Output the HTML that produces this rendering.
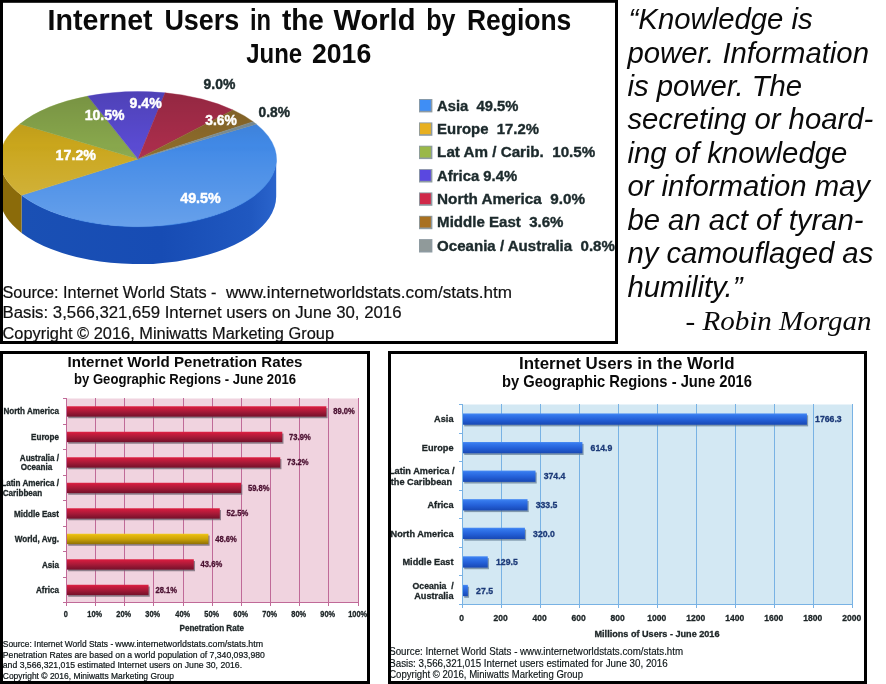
<!DOCTYPE html>
<html lang="en"><head><meta charset="utf-8"><title>Internet Users in the World by Regions - June 2016</title>
<style>
html,body{margin:0;padding:0;background:#fff;}
body{width:886px;height:684px;overflow:hidden;}
svg{display:block;}
text{font-family:"Liberation Sans",Arial,sans-serif;}
text.sf{font-family:"Liberation Serif","Times New Roman",serif;}
</style></head><body>
<svg width="886" height="684" viewBox="0 0 886 684">
<defs>
<linearGradient id="gRed" x1="0" y1="0" x2="0" y2="1"><stop offset="0" stop-color="#e02848"/><stop offset="0.12" stop-color="#d01c3e"/><stop offset="0.5" stop-color="#a81a38"/><stop offset="1" stop-color="#74102a"/></linearGradient>
<linearGradient id="gGold" x1="0" y1="0" x2="0" y2="1"><stop offset="0" stop-color="#f0cc20"/><stop offset="0.15" stop-color="#e4b810"/><stop offset="0.5" stop-color="#cca408"/><stop offset="1" stop-color="#907004"/></linearGradient>
<linearGradient id="gBlue" x1="0" y1="0" x2="0" y2="1"><stop offset="0" stop-color="#4a8cf4"/><stop offset="0.15" stop-color="#3478ec"/><stop offset="0.55" stop-color="#2460d8"/><stop offset="1" stop-color="#1848b4"/></linearGradient>
<linearGradient id="gTop" x1="0" y1="0" x2="0" y2="1"><stop offset="0" stop-color="#000" stop-opacity="0.13"/><stop offset="0.4" stop-color="#000" stop-opacity="0"/><stop offset="0.45" stop-color="#fff" stop-opacity="0.02"/><stop offset="1" stop-color="#fff" stop-opacity="0.2"/></linearGradient>
<linearGradient id="gSide" x1="0" y1="0" x2="1" y2="0"><stop offset="0" stop-color="#1a50b4"/><stop offset="0.55" stop-color="#174cb4"/><stop offset="0.9" stop-color="#2058c0"/><stop offset="1" stop-color="#2a64cc"/></linearGradient>
<filter id="sh" x="-5%" y="-50%" width="110%" height="200%"><feGaussianBlur stdDeviation="0.7"/></filter>
</defs>
<rect x="0" y="0" width="886" height="684" fill="#ffffff"/>

<g id="pie">
<path d="M276.20,159.00 A138.2,67.5 0 0 1 21.57,195.37 L21.57,232.97 A138.2,67.5 0 0 0 276.20,196.60 Z" fill="url(#gSide)"/>
<path d="M21.57,195.37 A138.2,67.5 0 0 1 -0.20,159.00 L-0.20,196.60 A138.2,67.5 0 0 0 21.57,232.97 Z" fill="#8b6b0a"/>
<path d="M138.0,159.0 L256.34,124.13 A138.2,67.5 0 0 1 21.57,195.37 Z" fill="#4189e6" stroke="#4189e6" stroke-width="0.4"/>
<path d="M138.0,159.0 L21.57,195.37 A138.2,67.5 0 0 1 19.91,123.93 Z" fill="#caa61c" stroke="#caa61c" stroke-width="0.4"/>
<path d="M138.0,159.0 L19.91,123.93 A138.2,67.5 0 0 1 87.80,96.11 Z" fill="#88a74c" stroke="#88a74c" stroke-width="0.4"/>
<path d="M138.0,159.0 L87.80,96.11 A138.2,67.5 0 0 1 165.08,92.81 Z" fill="#5a4bd2" stroke="#5a4bd2" stroke-width="0.4"/>
<path d="M138.0,159.0 L165.08,92.81 A138.2,67.5 0 0 1 232.96,109.96 Z" fill="#a92d4b" stroke="#a92d4b" stroke-width="0.4"/>
<path d="M138.0,159.0 L232.96,109.96 A138.2,67.5 0 0 1 253.11,121.65 Z" fill="#8c6a2a" stroke="#8c6a2a" stroke-width="0.4"/>
<path d="M138.0,159.0 L253.11,121.65 A138.2,67.5 0 0 1 256.34,124.13 Z" fill="#7d8f95" stroke="#7d8f95" stroke-width="0.4"/>
<ellipse cx="138.0" cy="159.0" rx="138.2" ry="67.5" fill="url(#gTop)"/>
</g>
<text x="180.2" y="202.6" font-size="14.4" fill="#fff" font-weight="bold" textLength="40.6" lengthAdjust="spacingAndGlyphs" stroke="#fff" stroke-width="0.45">49.5%</text>
<text x="55.6" y="160" font-size="14.4" fill="#fff" font-weight="bold" textLength="40.4" lengthAdjust="spacingAndGlyphs" stroke="#fff" stroke-width="0.45">17.2%</text>
<text x="84.7" y="120.4" font-size="14.4" fill="#fff" font-weight="bold" textLength="39.9" lengthAdjust="spacingAndGlyphs" stroke="#fff" stroke-width="0.45">10.5%</text>
<text x="129.6" y="108" font-size="14.4" fill="#fff" font-weight="bold" textLength="32.1" lengthAdjust="spacingAndGlyphs" stroke="#fff" stroke-width="0.45">9.4%</text>
<text x="205.2" y="125.4" font-size="14.4" fill="#fff" font-weight="bold" textLength="31.6" lengthAdjust="spacingAndGlyphs" stroke="#fff" stroke-width="0.45">3.6%</text>
<text x="203.5" y="88.7" font-size="14.4" fill="#1c2a2c" font-weight="bold" textLength="31.8" lengthAdjust="spacingAndGlyphs" stroke="#1c2a2c" stroke-width="0.45">9.0%</text>
<text x="258.5" y="117.3" font-size="14.4" fill="#1c2a2c" font-weight="bold" textLength="31.5" lengthAdjust="spacingAndGlyphs" stroke="#1c2a2c" stroke-width="0.45">0.8%</text>
<text y="29.5" font-size="28.6" font-weight="bold" fill="#0a0a0a">
<tspan x="47.6" textLength="105.0" lengthAdjust="spacingAndGlyphs">Internet</tspan>
<tspan x="164.4" textLength="74.9" lengthAdjust="spacingAndGlyphs">Users</tspan>
<tspan x="250.0" textLength="21.1" lengthAdjust="spacingAndGlyphs">in</tspan>
<tspan x="281.90000000000003" textLength="42.0" lengthAdjust="spacingAndGlyphs">the</tspan>
<tspan x="333.5" textLength="82.0" lengthAdjust="spacingAndGlyphs">World</tspan>
<tspan x="426.3" textLength="29.2" lengthAdjust="spacingAndGlyphs">by</tspan>
<tspan x="466.90000000000003" textLength="104.4" lengthAdjust="spacingAndGlyphs">Regions</tspan>
</text>
<text y="62.6" font-size="28" font-weight="bold" fill="#0a0a0a">
<tspan x="246.3" textLength="55.9" lengthAdjust="spacingAndGlyphs">June</tspan>
<tspan x="312.0" textLength="59.2" lengthAdjust="spacingAndGlyphs">2016</tspan>
</text>
<rect x="419.0" y="99.0" width="13.4" height="13.4" fill="#8e9ba2"/>
<rect x="419.9" y="99.9" width="10.9" height="10.9" fill="#3f8ef5"/>
<text x="437.1" y="110.6" font-size="14.2" fill="#1c2a2c" font-weight="bold" textLength="81.3" lengthAdjust="spacingAndGlyphs" stroke="#1c2a2c" stroke-width="0.35">Asia  49.5%</text>
<rect x="419.0" y="122.4" width="13.4" height="13.4" fill="#8e9ba2"/>
<rect x="419.9" y="123.3" width="10.9" height="10.9" fill="#e8b020"/>
<text x="437.1" y="133.9" font-size="14.2" fill="#1c2a2c" font-weight="bold" textLength="101.9" lengthAdjust="spacingAndGlyphs" stroke="#1c2a2c" stroke-width="0.35">Europe  17.2%</text>
<rect x="419.0" y="145.7" width="13.4" height="13.4" fill="#8e9ba2"/>
<rect x="419.9" y="146.6" width="10.9" height="10.9" fill="#9ab848"/>
<text x="437.1" y="157.3" font-size="14.2" fill="#1c2a2c" font-weight="bold" textLength="158.2" lengthAdjust="spacingAndGlyphs" stroke="#1c2a2c" stroke-width="0.35">Lat Am / Carib.  10.5%</text>
<rect x="419.0" y="169.1" width="13.4" height="13.4" fill="#8e9ba2"/>
<rect x="419.9" y="169.9" width="10.9" height="10.9" fill="#5a48e0"/>
<text x="437.1" y="180.7" font-size="14.2" fill="#1c2a2c" font-weight="bold" textLength="80.0" lengthAdjust="spacingAndGlyphs" stroke="#1c2a2c" stroke-width="0.35">Africa 9.4%</text>
<rect x="419.0" y="192.4" width="13.4" height="13.4" fill="#8e9ba2"/>
<rect x="419.9" y="193.3" width="10.9" height="10.9" fill="#d02848"/>
<text x="437.1" y="204.0" font-size="14.2" fill="#1c2a2c" font-weight="bold" textLength="147.9" lengthAdjust="spacingAndGlyphs" stroke="#1c2a2c" stroke-width="0.35">North America  9.0%</text>
<rect x="419.0" y="215.8" width="13.4" height="13.4" fill="#8e9ba2"/>
<rect x="419.9" y="216.6" width="10.9" height="10.9" fill="#a87020"/>
<text x="437.1" y="227.3" font-size="14.2" fill="#1c2a2c" font-weight="bold" textLength="126.4" lengthAdjust="spacingAndGlyphs" stroke="#1c2a2c" stroke-width="0.35">Middle East  3.6%</text>
<rect x="419.0" y="239.1" width="13.4" height="13.4" fill="#8e9ba2"/>
<rect x="419.9" y="240.0" width="10.9" height="10.9" fill="#909a9a"/>
<text x="437.1" y="250.7" font-size="14.2" fill="#1c2a2c" font-weight="bold" textLength="177.8" lengthAdjust="spacingAndGlyphs" stroke="#1c2a2c" stroke-width="0.35">Oceania / Australia  0.8%</text>
<text x="2.5" y="298.3" font-size="17.3" fill="#111" textLength="214.0" lengthAdjust="spacingAndGlyphs" stroke="#111" stroke-width="0.2">Source: Internet World Stats -</text>
<text x="226" y="298.3" font-size="17.3" fill="#111" textLength="286" lengthAdjust="spacingAndGlyphs" stroke="#111" stroke-width="0.2">www.internetworldstats.com/stats.htm</text>
<text x="2.5" y="318.4" font-size="17.3" fill="#111" textLength="399.0" lengthAdjust="spacingAndGlyphs" stroke="#111" stroke-width="0.2">Basis: 3,566,321,659 Internet users on June 30, 2016</text>
<text x="2.5" y="338.8" font-size="17.3" fill="#111" textLength="331.5" lengthAdjust="spacingAndGlyphs" stroke="#111" stroke-width="0.2">Copyright © 2016, Miniwatts Marketing Group</text>
<rect x="1.5" y="1.3" width="615" height="341.2" fill="none" stroke="#000" stroke-width="3"/>
<text x="628.6" y="29.0" font-size="29.3" fill="#0a0a0a" font-style="italic">“Knowledge is</text>
<text x="627.4" y="62.5" font-size="29.3" fill="#0a0a0a" font-style="italic">power. Information</text>
<text x="627.4" y="95.9" font-size="29.3" fill="#0a0a0a" font-style="italic">is power. The</text>
<text x="627.4" y="129.4" font-size="29.3" fill="#0a0a0a" font-style="italic">secreting or hoard-</text>
<text x="627.4" y="162.8" font-size="29.3" fill="#0a0a0a" font-style="italic">ing of knowledge</text>
<text x="627.4" y="196.2" font-size="29.3" fill="#0a0a0a" font-style="italic">or information may</text>
<text x="627.4" y="229.7" font-size="29.3" fill="#0a0a0a" font-style="italic">be an act of tyran-</text>
<text x="627.4" y="263.2" font-size="29.3" fill="#0a0a0a" font-style="italic">ny camouflaged as</text>
<text x="627.4" y="296.6" font-size="29.3" fill="#0a0a0a" font-style="italic">humility.”</text>
<text x="685.5" y="330.3" font-size="27" fill="#0a0a0a" textLength="186.1" lengthAdjust="spacingAndGlyphs" class="sf" font-style="italic">- Robin Morgan</text>
<g id="chart2">
<rect x="66.5" y="398.5" width="292.0" height="204.0" fill="#f0d3df"/>
<g stroke="#c06a98" stroke-width="1" shape-rendering="crispEdges">
<line x1="66.5" y1="398.0" x2="66.5" y2="606.0"/>
<line x1="95.5" y1="398.0" x2="95.5" y2="606.0"/>
<line x1="124.5" y1="398.0" x2="124.5" y2="606.0"/>
<line x1="153.5" y1="398.0" x2="153.5" y2="606.0"/>
<line x1="183.5" y1="398.0" x2="183.5" y2="606.0"/>
<line x1="212.5" y1="398.0" x2="212.5" y2="606.0"/>
<line x1="241.5" y1="398.0" x2="241.5" y2="606.0"/>
<line x1="270.5" y1="398.0" x2="270.5" y2="606.0"/>
<line x1="299.5" y1="398.0" x2="299.5" y2="606.0"/>
<line x1="328.5" y1="398.0" x2="328.5" y2="606.0"/>
<line x1="358.5" y1="398.0" x2="358.5" y2="606.0"/>
<line x1="63.0" y1="602.5" x2="359.0" y2="602.5"/>
<line x1="63.0" y1="398.50" x2="66.5" y2="398.50"/>
<line x1="63.0" y1="424.00" x2="66.5" y2="424.00"/>
<line x1="63.0" y1="449.50" x2="66.5" y2="449.50"/>
<line x1="63.0" y1="475.00" x2="66.5" y2="475.00"/>
<line x1="63.0" y1="500.50" x2="66.5" y2="500.50"/>
<line x1="63.0" y1="526.00" x2="66.5" y2="526.00"/>
<line x1="63.0" y1="551.50" x2="66.5" y2="551.50"/>
<line x1="63.0" y1="577.00" x2="66.5" y2="577.00"/>
<line x1="63.0" y1="602.50" x2="66.5" y2="602.50"/>
</g>
<rect x="68.2" y="408.05" width="259.38" height="10.2" fill="#6e6470" opacity="0.75" filter="url(#sh)"/>
<rect x="67.0" y="406.25" width="259.38" height="10.4" fill="url(#gRed)"/>
<text x="333.2" y="414.4" font-size="8.2" fill="#4a1030" font-weight="bold" textLength="21.6" lengthAdjust="spacingAndGlyphs" stroke="#4a1030" stroke-width="0.3">89.0%</text>
<text x="59" y="414.4" font-size="8.4" fill="#1c2426" font-weight="bold" text-anchor="end" textLength="55.6" lengthAdjust="spacingAndGlyphs" stroke="#1c2426" stroke-width="0.3">North America</text>
<rect x="68.2" y="433.55" width="215.29" height="10.2" fill="#6e6470" opacity="0.75" filter="url(#sh)"/>
<rect x="67.0" y="431.75" width="215.29" height="10.4" fill="url(#gRed)"/>
<text x="289.1" y="439.9" font-size="8.2" fill="#4a1030" font-weight="bold" textLength="21.6" lengthAdjust="spacingAndGlyphs" stroke="#4a1030" stroke-width="0.3">73.9%</text>
<text x="59" y="439.9" font-size="8.4" fill="#1c2426" font-weight="bold" text-anchor="end" textLength="27.9" lengthAdjust="spacingAndGlyphs" stroke="#1c2426" stroke-width="0.3">Europe</text>
<rect x="68.2" y="459.05" width="213.24" height="10.2" fill="#6e6470" opacity="0.75" filter="url(#sh)"/>
<rect x="67.0" y="457.25" width="213.24" height="10.4" fill="url(#gRed)"/>
<text x="287.0" y="465.4" font-size="8.2" fill="#4a1030" font-weight="bold" textLength="21.6" lengthAdjust="spacingAndGlyphs" stroke="#4a1030" stroke-width="0.3">73.2%</text>
<text x="59" y="460.8" font-size="8.4" fill="#1c2426" font-weight="bold" text-anchor="end" textLength="39.2" lengthAdjust="spacingAndGlyphs" stroke="#1c2426" stroke-width="0.3">Australia /</text>
<text x="52.3" y="470.2" font-size="8.4" fill="#1c2426" font-weight="bold" text-anchor="end" textLength="31.5" lengthAdjust="spacingAndGlyphs" stroke="#1c2426" stroke-width="0.3">Oceania</text>
<rect x="68.2" y="484.55" width="174.12" height="10.2" fill="#6e6470" opacity="0.75" filter="url(#sh)"/>
<rect x="67.0" y="482.75" width="174.12" height="10.4" fill="url(#gRed)"/>
<text x="247.9" y="490.9" font-size="8.2" fill="#4a1030" font-weight="bold" textLength="21.6" lengthAdjust="spacingAndGlyphs" stroke="#4a1030" stroke-width="0.3">59.8%</text>
<text x="59" y="486.2" font-size="8.4" fill="#1c2426" font-weight="bold" text-anchor="end" textLength="57.8" lengthAdjust="spacingAndGlyphs" stroke="#1c2426" stroke-width="0.3">Latin America /</text>
<text x="42.3" y="495.8" font-size="8.4" fill="#1c2426" font-weight="bold" text-anchor="end" textLength="39.6" lengthAdjust="spacingAndGlyphs" stroke="#1c2426" stroke-width="0.3">Caribbean</text>
<rect x="68.2" y="510.05" width="152.80" height="10.2" fill="#6e6470" opacity="0.75" filter="url(#sh)"/>
<rect x="67.0" y="508.25" width="152.80" height="10.4" fill="url(#gRed)"/>
<text x="226.6" y="516.4" font-size="8.2" fill="#4a1030" font-weight="bold" textLength="21.6" lengthAdjust="spacingAndGlyphs" stroke="#4a1030" stroke-width="0.3">52.5%</text>
<text x="59" y="516.5" font-size="8.4" fill="#1c2426" font-weight="bold" text-anchor="end" textLength="45.0" lengthAdjust="spacingAndGlyphs" stroke="#1c2426" stroke-width="0.3">Middle East</text>
<rect x="68.2" y="535.55" width="141.41" height="10.2" fill="#6e6470" opacity="0.75" filter="url(#sh)"/>
<rect x="67.0" y="533.75" width="141.41" height="10.4" fill="url(#gGold)"/>
<text x="215.2" y="541.9" font-size="8.2" fill="#4a1030" font-weight="bold" textLength="21.6" lengthAdjust="spacingAndGlyphs" stroke="#4a1030" stroke-width="0.3">48.6%</text>
<text x="59" y="542.0" font-size="8.4" fill="#1c2426" font-weight="bold" text-anchor="end" textLength="44.3" lengthAdjust="spacingAndGlyphs" stroke="#1c2426" stroke-width="0.3">World, Avg.</text>
<rect x="68.2" y="561.05" width="126.81" height="10.2" fill="#6e6470" opacity="0.75" filter="url(#sh)"/>
<rect x="67.0" y="559.25" width="126.81" height="10.4" fill="url(#gRed)"/>
<text x="200.6" y="567.4" font-size="8.2" fill="#4a1030" font-weight="bold" textLength="21.6" lengthAdjust="spacingAndGlyphs" stroke="#4a1030" stroke-width="0.3">43.6%</text>
<text x="59" y="567.5" font-size="8.4" fill="#1c2426" font-weight="bold" text-anchor="end" textLength="17.1" lengthAdjust="spacingAndGlyphs" stroke="#1c2426" stroke-width="0.3">Asia</text>
<rect x="68.2" y="586.55" width="81.55" height="10.2" fill="#6e6470" opacity="0.75" filter="url(#sh)"/>
<rect x="67.0" y="584.75" width="81.55" height="10.4" fill="url(#gRed)"/>
<text x="155.4" y="592.9" font-size="8.2" fill="#4a1030" font-weight="bold" textLength="21.6" lengthAdjust="spacingAndGlyphs" stroke="#4a1030" stroke-width="0.3">28.1%</text>
<text x="59" y="593.0" font-size="8.4" fill="#1c2426" font-weight="bold" text-anchor="end" textLength="23.0" lengthAdjust="spacingAndGlyphs" stroke="#1c2426" stroke-width="0.3">Africa</text>
<text x="65.7" y="616.7" font-size="8.2" fill="#1c2426" font-weight="bold" text-anchor="middle" textLength="4.1" lengthAdjust="spacingAndGlyphs" stroke="#1c2426" stroke-width="0.3">0</text>
<text x="94.7" y="616.7" font-size="8.2" fill="#1c2426" font-weight="bold" text-anchor="middle" textLength="14.8" lengthAdjust="spacingAndGlyphs" stroke="#1c2426" stroke-width="0.3">10%</text>
<text x="123.7" y="616.7" font-size="8.2" fill="#1c2426" font-weight="bold" text-anchor="middle" textLength="14.8" lengthAdjust="spacingAndGlyphs" stroke="#1c2426" stroke-width="0.3">20%</text>
<text x="152.7" y="616.7" font-size="8.2" fill="#1c2426" font-weight="bold" text-anchor="middle" textLength="14.8" lengthAdjust="spacingAndGlyphs" stroke="#1c2426" stroke-width="0.3">30%</text>
<text x="182.7" y="616.7" font-size="8.2" fill="#1c2426" font-weight="bold" text-anchor="middle" textLength="14.8" lengthAdjust="spacingAndGlyphs" stroke="#1c2426" stroke-width="0.3">40%</text>
<text x="211.7" y="616.7" font-size="8.2" fill="#1c2426" font-weight="bold" text-anchor="middle" textLength="14.8" lengthAdjust="spacingAndGlyphs" stroke="#1c2426" stroke-width="0.3">50%</text>
<text x="240.7" y="616.7" font-size="8.2" fill="#1c2426" font-weight="bold" text-anchor="middle" textLength="14.8" lengthAdjust="spacingAndGlyphs" stroke="#1c2426" stroke-width="0.3">60%</text>
<text x="269.7" y="616.7" font-size="8.2" fill="#1c2426" font-weight="bold" text-anchor="middle" textLength="14.8" lengthAdjust="spacingAndGlyphs" stroke="#1c2426" stroke-width="0.3">70%</text>
<text x="298.7" y="616.7" font-size="8.2" fill="#1c2426" font-weight="bold" text-anchor="middle" textLength="14.8" lengthAdjust="spacingAndGlyphs" stroke="#1c2426" stroke-width="0.3">80%</text>
<text x="327.7" y="616.7" font-size="8.2" fill="#1c2426" font-weight="bold" text-anchor="middle" textLength="14.8" lengthAdjust="spacingAndGlyphs" stroke="#1c2426" stroke-width="0.3">90%</text>
<text x="357.7" y="616.7" font-size="8.2" fill="#1c2426" font-weight="bold" text-anchor="middle" textLength="18.9" lengthAdjust="spacingAndGlyphs" stroke="#1c2426" stroke-width="0.3">100%</text>
<text x="179.5" y="630.8" font-size="8.6" fill="#1c2426" font-weight="bold" textLength="64.4" lengthAdjust="spacingAndGlyphs" stroke="#1c2426" stroke-width="0.3">Penetration Rate</text>
<text x="67.5" y="367.1" font-size="15.3" fill="#0a0a0a" font-weight="bold" textLength="235.0" lengthAdjust="spacingAndGlyphs">Internet World Penetration Rates</text>
<text x="74" y="384" font-size="15.3" fill="#0a0a0a" font-weight="bold" textLength="222" lengthAdjust="spacingAndGlyphs">by Geographic Regions - June 2016</text>
<text x="2.8" y="647.2" font-size="9" fill="#0c1416" textLength="110.4" lengthAdjust="spacingAndGlyphs" stroke="#0c1416" stroke-width="0.2">Source: Internet World Stats -</text>
<text x="115.3" y="647.2" font-size="9" fill="#0c1416" textLength="147.8" lengthAdjust="spacingAndGlyphs" stroke="#0c1416" stroke-width="0.2">www.internetworldstats.com/stats.htm</text>
<text x="2.8" y="657.7" font-size="9" fill="#0c1416" textLength="262.1" lengthAdjust="spacingAndGlyphs" stroke="#0c1416" stroke-width="0.2">Penetration Rates are based on a world population of 7,340,093,980</text>
<text x="2.8" y="668.2" font-size="9" fill="#0c1416" textLength="239.3" lengthAdjust="spacingAndGlyphs" stroke="#0c1416" stroke-width="0.2">and 3,566,321,015 estimated Internet users on June 30, 2016.</text>
<text x="2.8" y="678.7" font-size="9" fill="#0c1416" textLength="171.1" lengthAdjust="spacingAndGlyphs" stroke="#0c1416" stroke-width="0.2">Copyright © 2016, Miniwatts Marketing Group</text>
</g>
<rect x="1.5" y="352.5" width="367" height="330" fill="none" stroke="#000" stroke-width="3"/>
<g id="chart3">
<rect x="462.5" y="404.5" width="390.0" height="200.0" fill="#d3e8f3"/>
<g stroke="#78b2e4" stroke-width="1" shape-rendering="crispEdges">
<line x1="462.50" y1="404.0" x2="462.50" y2="608.0"/>
<line x1="501.50" y1="404.0" x2="501.50" y2="608.0"/>
<line x1="540.50" y1="404.0" x2="540.50" y2="608.0"/>
<line x1="579.50" y1="404.0" x2="579.50" y2="608.0"/>
<line x1="618.50" y1="404.0" x2="618.50" y2="608.0"/>
<line x1="657.50" y1="404.0" x2="657.50" y2="608.0"/>
<line x1="696.50" y1="404.0" x2="696.50" y2="608.0"/>
<line x1="735.50" y1="404.0" x2="735.50" y2="608.0"/>
<line x1="774.50" y1="404.0" x2="774.50" y2="608.0"/>
<line x1="813.50" y1="404.0" x2="813.50" y2="608.0"/>
<line x1="852.50" y1="404.0" x2="852.50" y2="608.0"/>
<line x1="459.0" y1="604.5" x2="853.0" y2="604.5"/>
<line x1="459.0" y1="404.50" x2="462.5" y2="404.50"/>
<line x1="459.0" y1="433.07" x2="462.5" y2="433.07"/>
<line x1="459.0" y1="461.64" x2="462.5" y2="461.64"/>
<line x1="459.0" y1="490.21" x2="462.5" y2="490.21"/>
<line x1="459.0" y1="518.79" x2="462.5" y2="518.79"/>
<line x1="459.0" y1="547.36" x2="462.5" y2="547.36"/>
<line x1="459.0" y1="575.93" x2="462.5" y2="575.93"/>
<line x1="459.0" y1="604.50" x2="462.5" y2="604.50"/>
</g>
<rect x="464.2" y="415.29" width="343.93" height="11.1" fill="#5e7890" opacity="0.7" filter="url(#sh)"/>
<rect x="463.0" y="413.44" width="343.93" height="11.3" fill="url(#gBlue)"/>
<text x="815.1" y="422.3" font-size="8.7" fill="#1c3a78" font-weight="bold" stroke="#1c3a78" stroke-width="0.3">1766.3</text>
<text x="453.5" y="422.4" font-size="9.2" fill="#1c2426" font-weight="bold" text-anchor="end" stroke="#1c2426" stroke-width="0.3">Asia</text>
<rect x="464.2" y="443.86" width="119.41" height="11.1" fill="#5e7890" opacity="0.7" filter="url(#sh)"/>
<rect x="463.0" y="442.01" width="119.41" height="11.3" fill="url(#gBlue)"/>
<text x="590.6" y="450.9" font-size="8.7" fill="#1c3a78" font-weight="bold" stroke="#1c3a78" stroke-width="0.3">614.9</text>
<text x="453.5" y="451.0" font-size="9.2" fill="#1c2426" font-weight="bold" text-anchor="end" stroke="#1c2426" stroke-width="0.3">Europe</text>
<rect x="464.2" y="472.43" width="72.51" height="11.1" fill="#5e7890" opacity="0.7" filter="url(#sh)"/>
<rect x="463.0" y="470.58" width="72.51" height="11.3" fill="url(#gBlue)"/>
<text x="543.7" y="479.4" font-size="8.7" fill="#1c3a78" font-weight="bold" stroke="#1c3a78" stroke-width="0.3">374.4</text>
<text x="454.5" y="474.4" font-size="9.2" fill="#1c2426" font-weight="bold" text-anchor="end" stroke="#1c2426" stroke-width="0.3">Latin America /</text>
<text x="452" y="484.8" font-size="9.2" fill="#1c2426" font-weight="bold" text-anchor="end" stroke="#1c2426" stroke-width="0.3">the Caribbean</text>
<rect x="464.2" y="501.00" width="64.53" height="11.1" fill="#5e7890" opacity="0.7" filter="url(#sh)"/>
<rect x="463.0" y="499.15" width="64.53" height="11.3" fill="url(#gBlue)"/>
<text x="535.7" y="508.0" font-size="8.7" fill="#1c3a78" font-weight="bold" stroke="#1c3a78" stroke-width="0.3">333.5</text>
<text x="453.5" y="508.1" font-size="9.2" fill="#1c2426" font-weight="bold" text-anchor="end" stroke="#1c2426" stroke-width="0.3">Africa</text>
<rect x="464.2" y="529.57" width="61.90" height="11.1" fill="#5e7890" opacity="0.7" filter="url(#sh)"/>
<rect x="463.0" y="527.72" width="61.90" height="11.3" fill="url(#gBlue)"/>
<text x="533.1" y="536.6" font-size="8.7" fill="#1c3a78" font-weight="bold" stroke="#1c3a78" stroke-width="0.3">320.0</text>
<text x="453.5" y="536.7" font-size="9.2" fill="#1c2426" font-weight="bold" text-anchor="end" stroke="#1c2426" stroke-width="0.3">North America</text>
<rect x="464.2" y="558.14" width="24.75" height="11.1" fill="#5e7890" opacity="0.7" filter="url(#sh)"/>
<rect x="463.0" y="556.29" width="24.75" height="11.3" fill="url(#gBlue)"/>
<text x="496.0" y="565.1" font-size="8.7" fill="#1c3a78" font-weight="bold" stroke="#1c3a78" stroke-width="0.3">129.5</text>
<text x="453.5" y="565.2" font-size="9.2" fill="#1c2426" font-weight="bold" text-anchor="end" stroke="#1c2426" stroke-width="0.3">Middle East</text>
<rect x="464.2" y="586.71" width="4.86" height="11.1" fill="#5e7890" opacity="0.7" filter="url(#sh)"/>
<rect x="463.0" y="584.86" width="4.86" height="11.3" fill="url(#gBlue)"/>
<text x="476.1" y="593.7" font-size="8.7" fill="#1c3a78" font-weight="bold" stroke="#1c3a78" stroke-width="0.3">27.5</text>
<text x="412.5" y="588.7" font-size="9.2" fill="#1c2426" font-weight="bold" textLength="41.2" lengthAdjust="spacingAndGlyphs" stroke="#1c2426" stroke-width="0.3">Oceania  /</text>
<text x="453.5" y="599.1" font-size="9.2" fill="#1c2426" font-weight="bold" text-anchor="end" stroke="#1c2426" stroke-width="0.3">Australia</text>
<text x="461.7" y="620.5" font-size="8.5" fill="#1c2426" font-weight="bold" text-anchor="middle" stroke="#1c2426" stroke-width="0.3">0</text>
<text x="500.7" y="620.5" font-size="8.5" fill="#1c2426" font-weight="bold" text-anchor="middle" stroke="#1c2426" stroke-width="0.3">200</text>
<text x="539.7" y="620.5" font-size="8.5" fill="#1c2426" font-weight="bold" text-anchor="middle" stroke="#1c2426" stroke-width="0.3">400</text>
<text x="578.7" y="620.5" font-size="8.5" fill="#1c2426" font-weight="bold" text-anchor="middle" stroke="#1c2426" stroke-width="0.3">600</text>
<text x="617.7" y="620.5" font-size="8.5" fill="#1c2426" font-weight="bold" text-anchor="middle" stroke="#1c2426" stroke-width="0.3">800</text>
<text x="656.7" y="620.5" font-size="8.5" fill="#1c2426" font-weight="bold" text-anchor="middle" stroke="#1c2426" stroke-width="0.3">1000</text>
<text x="695.7" y="620.5" font-size="8.5" fill="#1c2426" font-weight="bold" text-anchor="middle" stroke="#1c2426" stroke-width="0.3">1200</text>
<text x="734.7" y="620.5" font-size="8.5" fill="#1c2426" font-weight="bold" text-anchor="middle" stroke="#1c2426" stroke-width="0.3">1400</text>
<text x="773.7" y="620.5" font-size="8.5" fill="#1c2426" font-weight="bold" text-anchor="middle" stroke="#1c2426" stroke-width="0.3">1600</text>
<text x="812.7" y="620.5" font-size="8.5" fill="#1c2426" font-weight="bold" text-anchor="middle" stroke="#1c2426" stroke-width="0.3">1800</text>
<text x="851.7" y="620.5" font-size="8.5" fill="#1c2426" font-weight="bold" text-anchor="middle" stroke="#1c2426" stroke-width="0.3">2000</text>
<text x="594.5" y="637" font-size="8.8" fill="#1c2426" font-weight="bold" textLength="125.0" lengthAdjust="spacingAndGlyphs" stroke="#1c2426" stroke-width="0.3">Millions of Users - June 2016</text>
<text x="519" y="368.6" font-size="16.9" fill="#0a0a0a" font-weight="bold" textLength="215.5" lengthAdjust="spacingAndGlyphs">Internet Users in the World</text>
<text x="502" y="386.8" font-size="16.9" fill="#0a0a0a" font-weight="bold" textLength="250" lengthAdjust="spacingAndGlyphs">by Geographic Regions - June 2016</text>
<text x="389.2" y="654.9" font-size="10.3" fill="#0c1416" textLength="293.9" lengthAdjust="spacingAndGlyphs" stroke="#0c1416" stroke-width="0.15">Source: Internet World Stats - www.internetworldstats.com/stats.htm</text>
<text x="389.2" y="666.8" font-size="10.3" fill="#0c1416" textLength="278.5" lengthAdjust="spacingAndGlyphs" stroke="#0c1416" stroke-width="0.15">Basis: 3,566,321,015 Internet users estimated for June 30, 2016</text>
<text x="389.2" y="678.4" font-size="10.3" fill="#0c1416" textLength="193.8" lengthAdjust="spacingAndGlyphs" stroke="#0c1416" stroke-width="0.15">Copyright © 2016, Miniwatts Marketing Group</text>
</g>
<rect x="389.5" y="352.5" width="476" height="330" fill="none" stroke="#000" stroke-width="3"/>
</svg>
</body></html>
